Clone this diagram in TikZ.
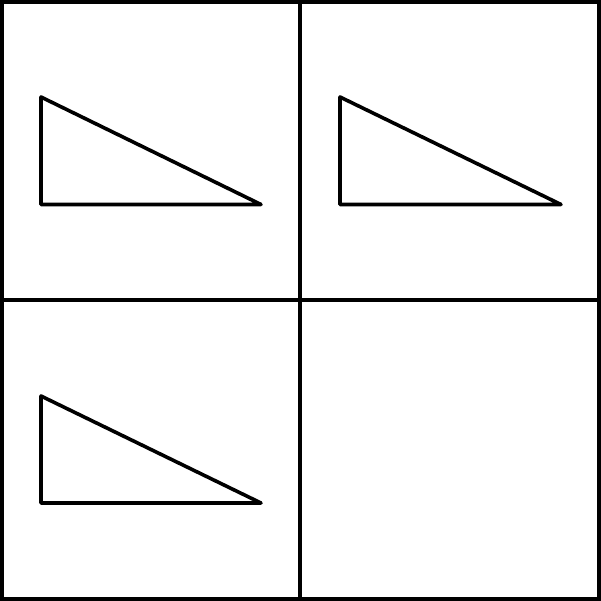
\documentclass[tikz,border=0pt]{standalone}
\begin{document}
\begin{tikzpicture}[x=1pt,y=-1pt,
  edge/.style={line width=3.6pt,line join=round,line cap=round}]
\useasboundingbox (0,0) rectangle (601,601);
\fill[white] (0,0) rectangle (601,601);
\draw[edge,line width=4pt,line join=miter,line cap=rect] (2,2) rectangle (599,599);
\draw[edge,line width=4pt] (300,2) -- (300,599);
\draw[edge,line width=4pt] (2,300) -- (599,300);
\draw[edge] (41,97) -- (41,204.5) -- (261,204.5) -- cycle;
\draw[edge] (340,97) -- (340,204.5) -- (561,204.5) -- cycle;
\draw[edge] (41,396) -- (41,503) -- (261,503) -- cycle;
\end{tikzpicture}
\end{document}
